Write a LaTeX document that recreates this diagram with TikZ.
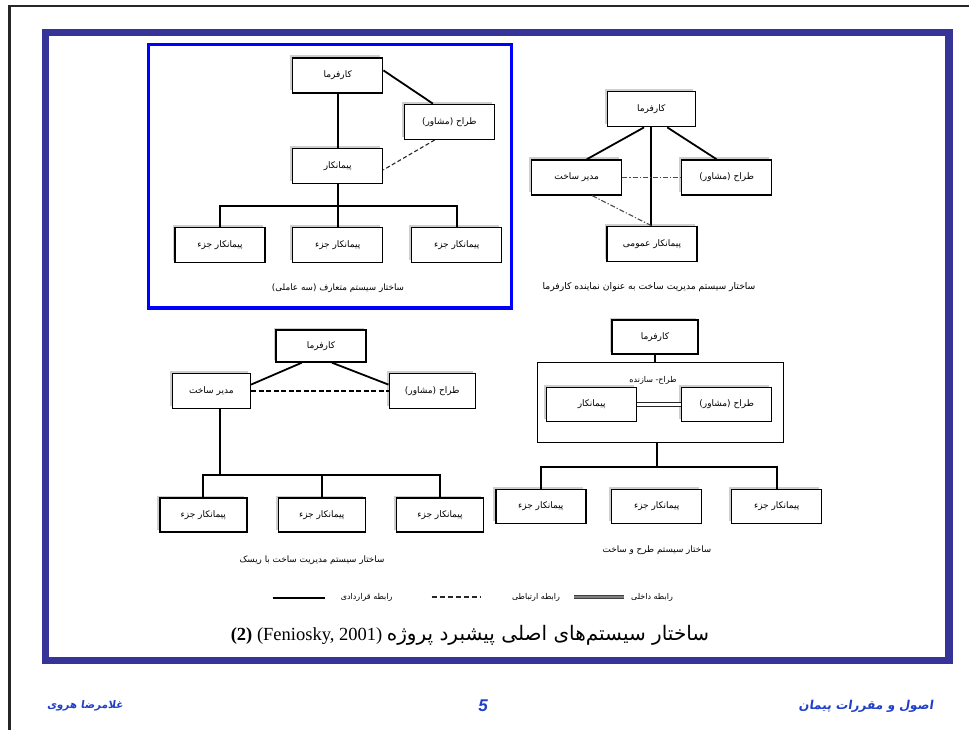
\documentclass[tikz,border=0pt]{standalone}
\usepackage{fontspec}
\usepackage{xcolor}
\usepackage{tikz}
\usetikzlibrary{calc,shadows}
\setmainfont{Liberation Serif}
\newfontfamily\arabicfont[Script=Arabic]{DejaVu Sans}
\newfontfamily\footfont[Script=Arabic,FakeSlant=0.15]{DejaVu Sans Bold}
\newfontfamily\latinfoot{Liberation Sans}
\TeXXeTstate=1
\newcommand\fa[1]{\beginR #1\endR}
\definecolor{framec}{HTML}{363399}
\definecolor{boxblue}{HTML}{0000FF}
\definecolor{foot}{HTML}{1F3FC8}
\tikzset{
  box/.style={draw=black, line width=1.4, fill=white, minimum width=90, minimum height=35,
    inner sep=1, font=\arabicfont\fontsize{9}{10}\selectfont,
    drop shadow={shadow xshift=-2.5pt, shadow yshift=2.5pt, fill=black!35, opacity=0.55}},
  cline/.style={draw=black, line width=1.8},
  dline/.style={draw=black!85, line width=1.1, dash pattern=on 4 off 2.5},
  tdline/.style={draw=black, line width=2.2, dash pattern=on 5 off 2.5},
  ddline/.style={draw=black!70, line width=1.1, dash pattern=on 5 off 2 on 1.2 off 2},
  inline/.style={draw=black!85, double=white, double distance=2.6pt, line width=1.0},
  capt/.style={font=\arabicfont\fontsize{8.8}{10}\selectfont},
  lbl/.style={font=\arabicfont\fontsize{8}{9}\selectfont}
}
\begin{document}
\begin{tikzpicture}[x=1pt, y=-1pt]
  \useasboundingbox (0,0) rectangle (969,730);
  \fill[white] (0,0) rectangle (969,730);

  % page edges and frame
  \draw[black!85, line width=2.5] (9.5,730) -- (9.5,6) -- (969,6);
  \draw[framec, line width=7.5] (45.5,32.5) rectangle (949,660.5);

  % --- traditional system (top left)
  \draw[boxblue, line width=3.5] (148.7,44.3) rectangle (511.5,308);
  \node[box] (ownA) at (337.7,75.5) {\fa{کارفرما}};
  \node[box] (desA) at (449.3,121.8) {\fa{طراح (مشاور)}};
  \node[box] (conA) at (337.7,166.2) {\fa{پیمانکار}};
  \node[box] (subA1) at (220,245) {\fa{پیمانکار جزء}};
  \node[box] (subA2) at (337.7,245) {\fa{پیمانکار جزء}};
  \node[box] (subA3) at (456.7,245) {\fa{پیمانکار جزء}};
  \coordinate (busA) at (337.7,205.7);
  \draw[cline] (ownA.south) -- (conA.north);
  \draw[cline] ($(ownA.north east)!0.36!(ownA.south east)$) -- ($(desA.north west)!0.32!(desA.north east)$);
  \draw[dline] ($(desA.south west)!0.34!(desA.south east)$) -- ($(conA.north east)!0.6!(conA.south east)$);
  \draw[cline] (conA.south) -- (subA2.north);
  \draw[cline] (subA1.north) |- (busA) -| (subA3.north);
  \node[capt] (capA) at (338,288) {\fa{ساختار سیستم متعارف (سه عاملی)}};

  % --- construction management as agent (top right)
  \node[box, minimum width=88] (ownB) at (651.2,109.2) {\fa{کارفرما}};
  \node[box] (mgrB) at (576.7,177.5) {\fa{مدیر ساخت}};
  \node[box] (desB) at (726.7,177.5) {\fa{طراح (مشاور)}};
  \node[box] (conB) at (652,244.2) {\fa{پیمانکار عمومی}};
  \draw[cline] ($(ownB.south west)!0.42!(ownB.south east)$) -- ($(mgrB.north west)!0.61!(mgrB.north east)$);
  \draw[cline] ($(ownB.south west)!0.68!(ownB.south east)$) -- ($(desB.north west)!0.39!(desB.north east)$);
  \draw[cline] (ownB.south) -- (ownB.south |- conB.north);
  \draw[ddline] (mgrB.east) -- (desB.west);
  \draw[ddline] ($(mgrB.south west)!0.67!(mgrB.south east)$) -- (conB.north);
  \node[capt, font=\arabicfont\fontsize{9.2}{10}\selectfont] (capB) at (649,287) {\fa{ساختار سیستم مدیریت ساخت به عنوان نماینده کارفرما}};

  % --- construction management at risk (bottom left)
  \node[box, minimum height=32] (ownC) at (321,346) {\fa{کارفرما}};
  \node[box, minimum width=78] (mgrC) at (211.3,390.8) {\fa{مدیر ساخت}};
  \node[box, minimum width=86] (desC) at (432.2,390.8) {\fa{طراح (مشاور)}};
  \node[box, minimum width=87, minimum height=34] (subC1) at (203.3,515) {\fa{پیمانکار جزء}};
  \node[box, minimum width=87, minimum height=34] (subC2) at (321.7,515) {\fa{پیمانکار جزء}};
  \node[box, minimum width=87, minimum height=34] (subC3) at (440,515) {\fa{پیمانکار جزء}};
  \coordinate (mgrCb) at ($(mgrC.south west)!0.61!(mgrC.south east)$);
  \coordinate (busC) at (220,475);
  \draw[cline] ($(ownC.south west)!0.29!(ownC.south east)$) -- ($(mgrC.north east)!0.33!(mgrC.south east)$);
  \draw[cline] ($(ownC.south west)!0.62!(ownC.south east)$) -- ($(desC.north west)!0.33!(desC.south west)$);
  \draw[tdline] (mgrC.east) -- (desC.west);
  \draw[cline] (mgrCb) -- (busC);
  \draw[cline] (subC1.north) |- (busC) -| (subC3.north);
  \draw[cline] (subC2.north) -- (subC2.north |- busC);
  \node[capt] (capC) at (312,560) {\fa{ساختار سیستم مدیریت ساخت با ریسک}};

  % --- design-build (bottom right)
  \node[box, minimum width=86, minimum height=34] (ownD) at (655,337) {\fa{کارفرما}};
  \node[draw=black, line width=1.2, minimum width=245.6, minimum height=80, inner sep=0] (cont) at (660.5,402.7) {};
  \node[lbl] (dbD) at (653,380) {\fa{طراح- سازنده}};
  \node[box, minimum height=34.4] (conD) at (591.7,404.5) {\fa{پیمانکار}};
  \node[box, minimum height=34.4] (desD) at (726.7,404.5) {\fa{طراح (مشاور)}};
  \node[box, minimum height=34] (subD1) at (540.8,506.3) {\fa{پیمانکار جزء}};
  \node[box, minimum height=34] (subD2) at (656.7,506.3) {\fa{پیمانکار جزء}};
  \node[box, minimum height=34] (subD3) at (776.7,506.3) {\fa{پیمانکار جزء}};
  \coordinate (contb) at (656.7,442.7);
  \coordinate (busD) at (656.7,466.7);
  \draw[cline] (ownD.south) -- (ownD.south |- cont.north);
  \draw[inline] (conD.east) -- (desD.west);
  \draw[cline] (contb) -- (busD);
  \draw[cline] (subD1.north) |- (busD) -| (subD3.north);
  \node[capt] (capD) at (657,550) {\fa{ساختار سیستم طرح و ساخت}};

  % legend
  \coordinate (legS1) at (272.7,598.3);
  \coordinate (legS2) at (325,598.3);
  \coordinate (legD1) at (431.7,597);
  \coordinate (legD2) at (480,597);
  \coordinate (legI1) at (574,597);
  \coordinate (legI2) at (624,597);
  \draw[cline] (legS1) -- (legS2);
  \draw[dline, line width=1.2, dash pattern=on 5 off 3] (legD1) -- (legD2);
  \draw[inline, double=black!50, draw=black!75, double distance=2.2pt, line width=0.8] (legI1) -- (legI2);
  \node[lbl] (legSt) at (366.7,597) {\fa{رابطه قراردادی}};
  \node[lbl] (legDt) at (536,597) {\fa{رابطه ارتباطی}};
  \node[lbl] (legIt) at (652,597) {\fa{رابطه داخلی}};

  % main caption
  \node (title) at (470,635) {\fontsize{18.5}{20}\selectfont\textbf{(2)} (Feniosky, 2001) {\arabicfont\fontsize{20}{21}\selectfont\fa{ساختار سیستم‌های اصلی پیشبرد پروژه}}};

  % footer
  \node[font=\footfont\fontsize{12.2}{14}\selectfont, text=foot] (footR) at (866,706) {\fa{اصول و مقررات پیمان}};
  \node[font=\latinfoot\bfseries\itshape\fontsize{17}{17}\selectfont, text=foot] (pgno) at (483,706) {5};
  \node[font=\footfont\fontsize{10.5}{12}\selectfont, text=foot] (footL) at (85,706) {\fa{غلامرضا هروی}};
\end{tikzpicture}
\end{document}
